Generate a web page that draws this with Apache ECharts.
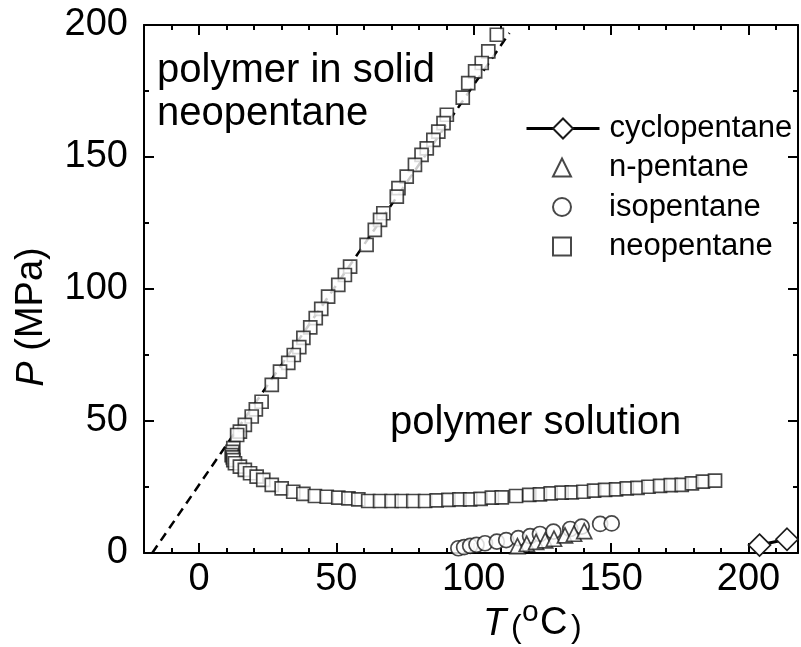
<!DOCTYPE html>
<html>
<head>
<meta charset="utf-8">
<script src="https://cdn.jsdelivr.net/npm/echarts@6/dist/echarts.min.js"></script>
<style>
  html, body { margin: 0; padding: 0; background: #fff; }
  #chart { width: 801px; height: 647px; }
</style>
</head>
<body>
<div id="chart"></div>
<script>
// neopentane: solid-liquid branch (top down) then the cloud-point branch
const neoT = [108.4, 105.3, 102.9, 100.5, 98, 96, 90.2, 89, 87.1, 85.3, 82.9, 81, 78.6, 75.6, 72.6, 72, 67.1, 65.9, 64, 61,
  55, 53.1, 50.7, 47, 44.5, 42.5, 40.5, 38, 36.5, 34.5, 32.5, 29.5, 26.5, 22.8, 20.7, 19.2, 16.7, 14.9, 13.9, 12.5, 12.2, 11.9,
  12.3, 12.5, 13.1, 14.9, 16.7, 18.6, 21, 23.4, 26.5, 30.1, 34.3, 38, 42.2, 46.5, 50.7, 54.4, 58, 61.6, 65.9, 70.1, 73.8,
  78, 82.3, 86.5, 90.8, 94.8, 98.7, 102.5, 106.6, 110.2, 115.4, 120.2, 124.1, 128, 132, 135.7, 139.9, 143.8, 147.8, 151.8,
  155.7, 159.6, 163.6, 167.8, 171.7, 175.7, 179.4, 183.4, 187.8]
const neoP = [196.3, 190, 185.6, 182.4, 178, 172.5, 166, 162.8, 159.6, 156.5, 153.3, 150.8, 147, 142.6, 138.2, 135, 128.7, 126.2, 122.4, 116.7,
  108.5, 105.3, 101.6, 97.1, 92.5, 89, 85.5, 81.5, 78, 75, 72, 68.7, 63.7, 57.3, 54.4, 51.7, 48.5, 46, 44.7, 39.7, 38.3, 37.1,
  36.2, 35.2, 34, 32.7, 31.5, 30.2, 28.9, 27.7, 25.8, 24.5, 23.2, 22.4, 21.6, 21.3, 21, 20.7, 20.3, 19.7, 19.7, 19.7, 19.7,
  19.7, 19.7, 19.9, 20.1, 20.3, 20.3, 20.5, 21, 21.1, 21.6, 22, 22.2, 22.6, 22.9, 23, 23.2, 23.6, 23.9, 24.1,
  24.5, 24.7, 25.1, 25.4, 25.7, 25.8, 26.4, 27, 27.4]

const isoT = [94.4, 96.5, 98.7, 101, 104.1, 108.4, 111.8, 116.2, 120.5, 124.1, 129, 135.1, 139.3, 146, 150.2]
const isoP = [1.8, 2.2, 2.7, 3.1, 3.7, 4.3, 4.9, 5.6, 6.4, 7.2, 8.1, 9.1, 10, 11, 11.2]

const nT = [115.9, 119.3, 122.7, 126, 129.2, 133.2, 136.5, 140.2]
const nP = [2.6, 3.5, 4.2, 4.8, 5.4, 6.7, 7.3, 8.3]

const cycloT = [204, 214]
const cycloP = [3, 5.2]

// dashed melting line of neopentane
const meltT = [-17, 113]
const meltP = [0, 197]

const xMajor = [0, 50, 100, 150, 200]
const xMinor = [-10, 10, 20, 30, 40, 60, 70, 80, 90, 110, 120, 130, 140, 160, 170, 180, 190, 210]

const font = 'Liberation Sans, Arial, sans-serif'
const pair = (xs, ys) => xs.map((x, i) => [x, ys[i]])

const chart = echarts.init(document.getElementById('chart'))

const markerStyle = { color: '#fff', borderColor: '#1a1a1a', borderWidth: 1.7 }
const legendText = { fontSize: 31, color: '#000', fontFamily: font, lineHeight: 30 }

function xAxisDef(pos, ticks, len, showLine, showLabel) {
  return {
    type: 'value', min: -20, max: 218, position: pos,
    axisLine: { show: showLine, onZero: false, lineStyle: { color: '#000', width: 2 } },
    axisTick: { inside: true, length: len, customValues: ticks, lineStyle: { color: '#000', width: 2 } },
    axisLabel: { show: showLabel, customValues: ticks, fontSize: 38, color: '#000', margin: 8, fontFamily: font },
    splitLine: { show: false }
  }
}

function yAxisDef(pos, showLabel) {
  return {
    type: 'value', min: 0, max: 200, interval: 50, position: pos,
    axisLine: { show: true, onZero: false, lineStyle: { color: '#000', width: 2 } },
    axisTick: { inside: true, length: 10, lineStyle: { color: '#000', width: 2 } },
    minorTick: { show: true, splitNumber: 2, length: 5, lineStyle: { color: '#000', width: 2 } },
    axisLabel: { show: showLabel, fontSize: 38, color: '#000', margin: 16, fontFamily: font },
    splitLine: { show: false }
  }
}

const option = {
  animation: false,
  backgroundColor: '#fff',
  grid: { left: 144, right: 3, top: 25, bottom: 94, outerBoundsMode: 'none' },
  xAxis: [
    xAxisDef('bottom', xMajor, 10, true, true),
    xAxisDef('bottom', xMinor, 5, false, false),
    xAxisDef('top', xMajor, 10, true, false),
    xAxisDef('top', xMinor, 5, false, false)
  ],
  yAxis: [
    yAxisDef('left', true),
    yAxisDef('right', false)
  ],
  legend: [
    {
      orient: 'vertical', left: 520, top: 108,
      itemWidth: 73, itemHeight: 25,
      textStyle: Object.assign({ padding: [0, 0, 0, 5] }, legendText),
      data: [{ name: 'cyclopentane', lineStyle: { width: 3, color: '#000' } }]
    },
    {
      orient: 'vertical', left: 547, top: 147,
      itemWidth: 18, itemHeight: 18, itemGap: 8.5,
      textStyle: Object.assign({ padding: [0, 0, 0, 33] }, legendText),
      data: ['n-pentane', 'isopentane', 'neopentane']
    }
  ],
  graphic: [
    { type: 'text', x: 157, y: 49, style: { text: 'polymer in solid\nneopentane', font: '40px ' + font, fill: '#000', lineHeight: 43 } },
    { type: 'text', x: 390, y: 401, style: { text: 'polymer solution', font: '40px ' + font, fill: '#000', lineHeight: 43 } },
    { type: 'text', x: 32, y: 317, rotation: Math.PI / 2,
      style: { text: '{i|P} (MPa)', font: '38px ' + font, fill: '#000', align: 'center', verticalAlign: 'middle',
        rich: { i: { fontStyle: 'italic', fontSize: 38, fontFamily: font } } } },
    { type: 'text', x: 483, y: 624, style: { text: 'T', font: 'italic 38px ' + font, fill: '#000', verticalAlign: 'middle' } },
    { type: 'text', x: 511, y: 628, style: { text: '(', font: '32px ' + font, fill: '#000', verticalAlign: 'middle' } },
    { type: 'text', x: 522, y: 613, style: { text: 'o', font: '30px ' + font, fill: '#000', verticalAlign: 'middle' } },
    { type: 'text', x: 540, y: 624, style: { text: 'C', font: '38px ' + font, fill: '#000', verticalAlign: 'middle' } },
    { type: 'text', x: 571, y: 628, style: { text: ')', font: '32px ' + font, fill: '#000', verticalAlign: 'middle' } }
  ],
  series: [
    {
      name: 'melt', type: 'line', data: pair(meltT, meltP), symbol: 'none', silent: true, z: 1,
      lineStyle: { color: '#000', width: 2.5, type: [9, 6] }
    },
    {
      name: 'neopentane', type: 'scatter', data: pair(neoT, neoP), symbol: 'rect', symbolSize: 13, z: 2,
      itemStyle: markerStyle
    },
    {
      name: 'isopentane', type: 'scatter', data: pair(isoT, isoP), symbol: 'circle', symbolSize: 15, z: 3,
      itemStyle: markerStyle
    },
    {
      name: 'n-pentane', type: 'scatter', data: pair(nT, nP), symbol: 'triangle', symbolSize: 15, z: 4,
      itemStyle: markerStyle
    },
    {
      name: 'cyclopentane', type: 'line', data: pair(cycloT, cycloP), symbol: 'diamond', symbolSize: 22, z: 5,
      showSymbol: true, lineStyle: { color: '#000', width: 3 }, itemStyle: markerStyle
    }
  ]
}

chart.setOption(option)
</script>
</body>
</html>
